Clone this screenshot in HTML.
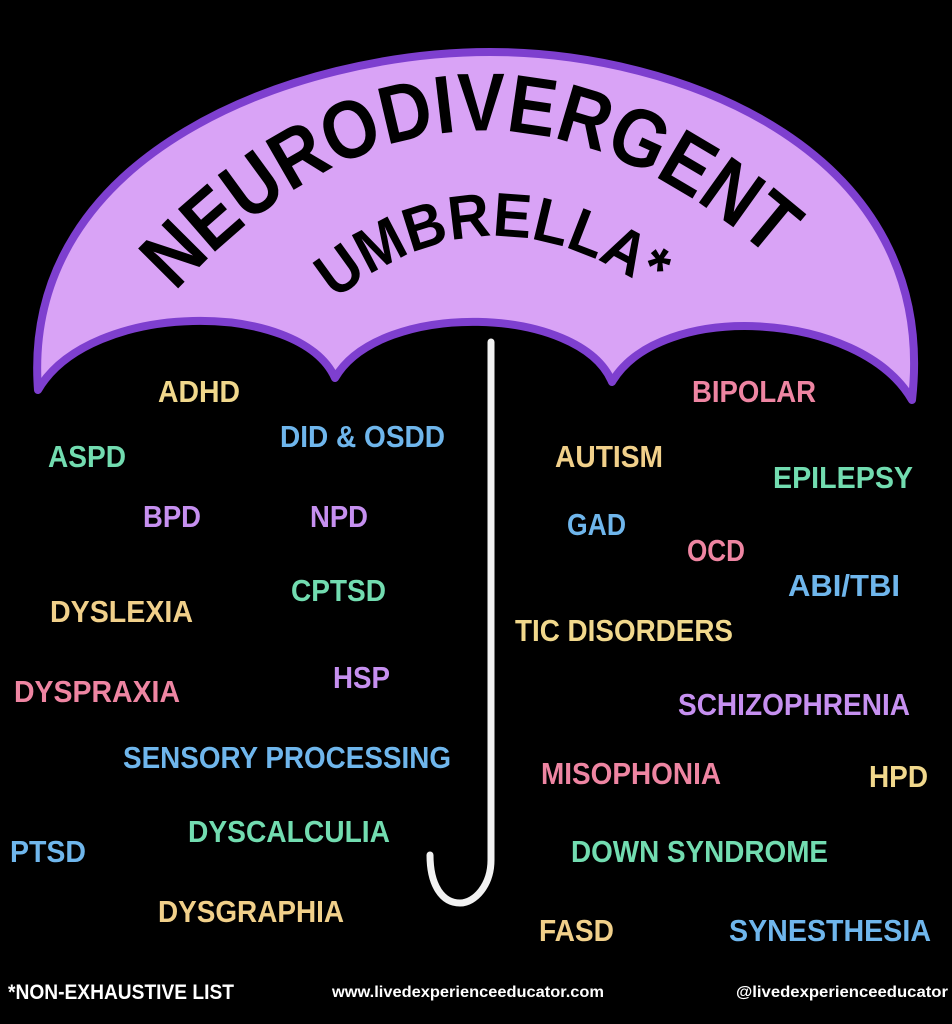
<!DOCTYPE html>
<html><head><meta charset="utf-8"><style>
html,body{margin:0;padding:0;background:#000;}
svg{display:block;}
.l{font-family:"Liberation Sans",sans-serif;font-weight:bold;font-size:31px;}
.t{font-family:"Liberation Sans",sans-serif;font-weight:bold;fill:#000;}
.f{font-family:"Liberation Sans",sans-serif;font-weight:bold;fill:#fff;}
</style></head><body>
<svg width="952" height="1024" viewBox="0 0 952 1024" xmlns="http://www.w3.org/2000/svg">
<rect width="952" height="1024" fill="#000"/>
<path d="M38,390 C20,150 300,52 490,52 C680,52 940,150 912,400 C860,310 660,300 612,382 C580,305 380,300 335,378 C300,300 90,300 38,390 Z" fill="#d9a3f6" stroke="#7e3fcf" stroke-width="8" stroke-linejoin="round"/>
<defs>
<path id="a1" d="M175,292 Q475,-30 805,290"/>
<path id="a2" d="M335,300 Q495,170 670,305"/>
</defs>
<text class="t" font-size="82"><textPath href="#a1" textLength="680" lengthAdjust="spacingAndGlyphs">NEURODIVERGENT</textPath></text>
<text class="t" font-size="62"><textPath href="#a2" textLength="345" lengthAdjust="spacingAndGlyphs">UMBRELLA*</textPath></text>
<path d="M491,342 L491,860 C491,885 475,903 460,903 C442,903 430,885 430,855" fill="none" stroke="#f2f2f2" stroke-width="7" stroke-linecap="round"/>
<g class="l">
<text x="158" y="402" textLength="82" lengthAdjust="spacingAndGlyphs" fill="#f1d88c">ADHD</text>
<text x="48" y="467" textLength="78" lengthAdjust="spacingAndGlyphs" fill="#72dcb0">ASPD</text>
<text x="280" y="447" textLength="165" lengthAdjust="spacingAndGlyphs" fill="#6fb6ec">DID &amp; OSDD</text>
<text x="143" y="527" textLength="58" lengthAdjust="spacingAndGlyphs" fill="#c690f0">BPD</text>
<text x="310" y="527" textLength="58" lengthAdjust="spacingAndGlyphs" fill="#c690f0">NPD</text>
<text x="291" y="601" textLength="95" lengthAdjust="spacingAndGlyphs" fill="#72dcb0">CPTSD</text>
<text x="50" y="622" textLength="143" lengthAdjust="spacingAndGlyphs" fill="#f1d08a">DYSLEXIA</text>
<text x="333" y="688" textLength="57" lengthAdjust="spacingAndGlyphs" fill="#c690f0">HSP</text>
<text x="14" y="702" textLength="166" lengthAdjust="spacingAndGlyphs" fill="#ee85a2">DYSPRAXIA</text>
<text x="123" y="768" textLength="328" lengthAdjust="spacingAndGlyphs" fill="#6fb6ec">SENSORY PROCESSING</text>
<text x="188" y="842" textLength="202" lengthAdjust="spacingAndGlyphs" fill="#72dcb0">DYSCALCULIA</text>
<text x="10" y="862" textLength="76" lengthAdjust="spacingAndGlyphs" fill="#6fb6ec">PTSD</text>
<text x="158" y="922" textLength="186" lengthAdjust="spacingAndGlyphs" fill="#f1d08a">DYSGRAPHIA</text>
<text x="692" y="402" textLength="124" lengthAdjust="spacingAndGlyphs" fill="#ee85a2">BIPOLAR</text>
<text x="555" y="467" textLength="108" lengthAdjust="spacingAndGlyphs" fill="#f1d08a">AUTISM</text>
<text x="773" y="488" textLength="140" lengthAdjust="spacingAndGlyphs" fill="#72dcb0">EPILEPSY</text>
<text x="567" y="535" textLength="59" lengthAdjust="spacingAndGlyphs" fill="#6fb6ec">GAD</text>
<text x="687" y="561" textLength="58" lengthAdjust="spacingAndGlyphs" fill="#ee85a2">OCD</text>
<text x="788" y="596" textLength="112" lengthAdjust="spacingAndGlyphs" fill="#6fb6ec">ABI/TBI</text>
<text x="515" y="641" textLength="218" lengthAdjust="spacingAndGlyphs" fill="#f1d88c">TIC DISORDERS</text>
<text x="678" y="715" textLength="232" lengthAdjust="spacingAndGlyphs" fill="#c690f0">SCHIZOPHRENIA</text>
<text x="541" y="784" textLength="180" lengthAdjust="spacingAndGlyphs" fill="#ee85a2">MISOPHONIA</text>
<text x="869" y="787" textLength="59" lengthAdjust="spacingAndGlyphs" fill="#f1d88c">HPD</text>
<text x="571" y="862" textLength="257" lengthAdjust="spacingAndGlyphs" fill="#72dcb0">DOWN SYNDROME</text>
<text x="539" y="941" textLength="75" lengthAdjust="spacingAndGlyphs" fill="#f1d08a">FASD</text>
<text x="729" y="941" textLength="202" lengthAdjust="spacingAndGlyphs" fill="#6fb6ec">SYNESTHESIA</text>
</g>
<g class="f">
<text x="8" y="999" font-size="21" textLength="226" lengthAdjust="spacingAndGlyphs">*NON-EXHAUSTIVE LIST</text>
<text x="332" y="997" font-size="16" textLength="272" lengthAdjust="spacingAndGlyphs">www.livedexperienceeducator.com</text>
<text x="736" y="997" font-size="16" textLength="212" lengthAdjust="spacingAndGlyphs">@livedexperienceeducator</text>
</g>
</svg>
</body></html>
